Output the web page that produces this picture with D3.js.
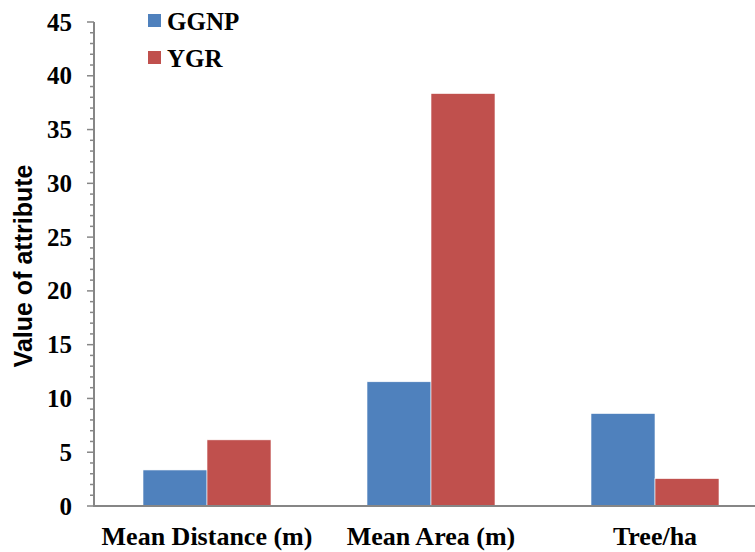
<!DOCTYPE html>
<html><head><meta charset="utf-8">
<script src="https://cdn.jsdelivr.net/npm/d3@7"></script>
<style>body{margin:0;background:#fff}svg{display:block}</style>
</head><body><svg id="c" width="755" height="552"></svg>
<script>
const categories = ["Mean Distance (m)", "Mean Area (m)", "Tree/ha"];
const series = ["GGNP", "YGR"];
const ggnp = [3.35, 11.55, 8.6];
const ygr = [6.15, 38.35, 2.55];
const yTicks = [0, 5, 10, 15, 20, 25, 30, 35, 40, 45];
const colors = ["#4F81BD", "#C0504D"];
const values = [ggnp, ygr];

const svg = d3.select("#c");
const x0 = d3.scaleBand().domain(categories).range([95, 767]).padding(0);
const x1 = d3.scaleBand().domain(series).range([0, x0.bandwidth()]).paddingInner(0).paddingOuter(0.75);
const y = d3.scaleLinear().domain([0, 45]).range([506, 22]);
const axisCol = "#868686";
const serif = "Liberation Serif, Times New Roman, serif";

// bars
series.forEach((s, si) => {
  svg.append("g").selectAll("rect").data(categories).join("rect")
    .attr("x", c => x0(c) + x1(s))
    .attr("y", (c, i) => y(values[si][i]))
    .attr("width", x1.bandwidth())
    .attr("height", (c, i) => y(0) - y(values[si][i]))
    .attr("fill", colors[si])
    .attr("stroke", "#fff").attr("stroke-width", 0.6);
});

// y axis
const ya = svg.append("g").attr("transform", "translate(94,0)");
const minor = d3.range(0, 46, 1).filter(v => v % 5 !== 0);
ya.selectAll("line.mi").data(minor).join("line").attr("class", "mi")
  .attr("x1", -4).attr("x2", 0).attr("y1", d => y(d)).attr("y2", d => y(d))
  .attr("stroke", axisCol).attr("stroke-width", 1.5);
ya.selectAll("line.ma").data(yTicks).join("line").attr("class", "ma")
  .attr("x1", -7).attr("x2", 0).attr("y1", d => y(d)).attr("y2", d => y(d))
  .attr("stroke", axisCol).attr("stroke-width", 1.5);
ya.append("line").attr("x1", 0).attr("x2", 0).attr("y1", y(45)).attr("y2", y(0) + 1)
  .attr("stroke", axisCol).attr("stroke-width", 2);
ya.selectAll("text").data(yTicks).join("text")
  .attr("x", -22).attr("y", d => y(d)).attr("dy", "0.34em")
  .attr("text-anchor", "end")
  .attr("font-family", serif)
  .attr("font-weight", "bold").attr("font-size", 25).attr("fill", "#000")
  .text(d => d);

// x axis
svg.append("line").attr("x1", 93).attr("x2", 755).attr("y1", y(0)).attr("y2", y(0))
  .attr("stroke", axisCol).attr("stroke-width", 2);
svg.append("g").selectAll("text").data(categories).join("text")
  .attr("x", c => x0(c) + x0.bandwidth() / 2).attr("y", 545)
  .attr("text-anchor", "middle")
  .attr("font-family", serif)
  .attr("font-weight", "bold").attr("font-size", 26).attr("fill", "#000")
  .text(c => c);

// y title
svg.append("text").attr("transform", "translate(32,266) rotate(-90)")
  .attr("text-anchor", "middle")
  .attr("font-family", "Liberation Sans, Arial, sans-serif")
  .attr("font-weight", "bold").attr("font-size", 25).attr("fill", "#000")
  .text("Value of attribute");

// legend
const lg = svg.append("g").selectAll("g").data(series).join("g")
  .attr("transform", (d, i) => `translate(148,${14 + i * 37})`);
lg.append("rect").attr("width", 13).attr("height", 13).attr("fill", (d, i) => colors[i]);
lg.append("text").attr("x", 19).attr("y", 7).attr("dy", "0.34em")
  .attr("font-family", serif)
  .attr("font-weight", "bold").attr("font-size", 25).attr("fill", "#000")
  .text(d => d);
</script></body></html>
